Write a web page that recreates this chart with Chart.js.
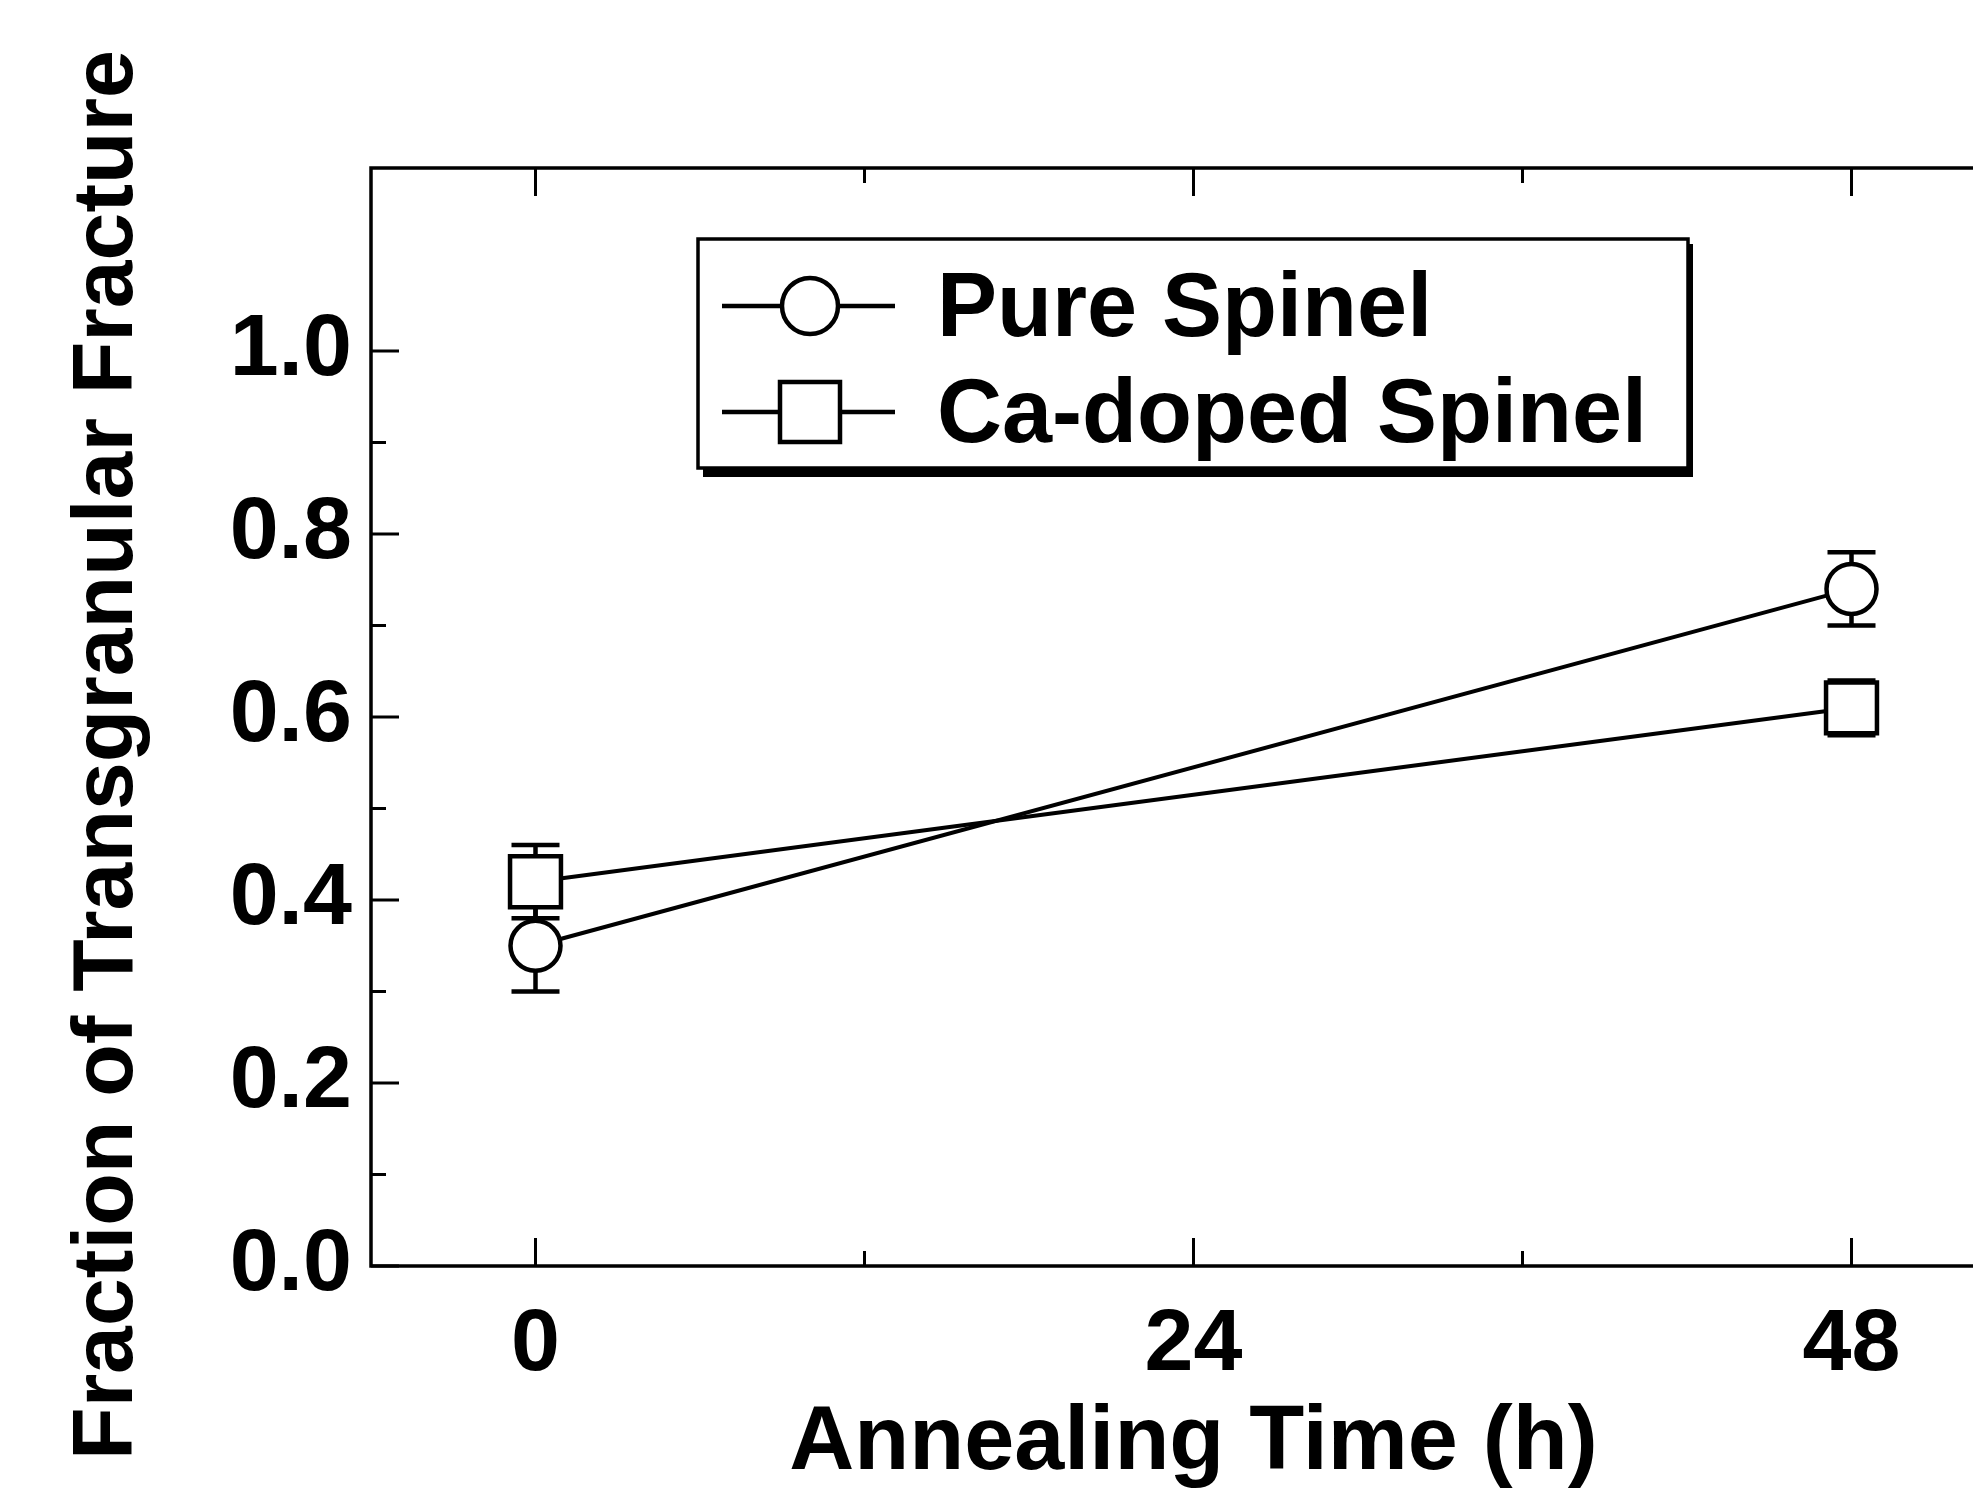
<!DOCTYPE html>
<html>
<head>
<meta charset="utf-8">
<script src="https://cdn.jsdelivr.net/npm/chart.js@4.4.1/dist/chart.umd.min.js"></script>
<style>
  html, body { margin: 0; padding: 0; background: #fff; overflow: hidden; }
</style>
</head>
<body>
<canvas id="graphique" width="2060" height="1489"></canvas>
<script>
const temps = [0, 48];
const pureSpinel = [0.35, 0.74];
const pureSpinelErr = [0.05, 0.04];
const caDoped = [0.42, 0.61];
const caDopedErr = [0.04, 0.03];
const xTicks = [0, 24, 48];
const xMinor = [12, 36];
const yTicks = [0, 0.2, 0.4, 0.6, 0.8, 1.0];
const yMinor = [0.1, 0.3, 0.5, 0.7, 0.9];
const nomsSeries = ["Pure Spinel", "Ca-doped Spinel"];

const police = "'Liberation Sans', Arial, sans-serif";

function points(xs, ys) {
    return xs.map((x, i) => ({ x: x, y: ys[i] }));
}

// barres d'erreur, dessinees sous les marqueurs
const barresErreur = {
    id: "barresErreur",
    beforeDatasetsDraw(chart) {
        const ctx = chart.ctx;
        const sx = chart.scales.x, sy = chart.scales.y;
        const erreurs = [pureSpinelErr, caDopedErr];
        ctx.save();
        ctx.strokeStyle = "#000";
        ctx.lineWidth = 4.5;
        chart.data.datasets.forEach((ds, d) => {
            ds.data.forEach((p, i) => {
                const px = sx.getPixelForValue(p.x);
                const haut = sy.getPixelForValue(p.y + erreurs[d][i]);
                const bas = sy.getPixelForValue(p.y - erreurs[d][i]);
                ctx.beginPath();
                ctx.moveTo(px, haut); ctx.lineTo(px, bas);
                ctx.moveTo(px - 24, haut); ctx.lineTo(px + 24, haut);
                ctx.moveTo(px - 24, bas); ctx.lineTo(px + 24, bas);
                ctx.stroke();
            });
        });
        ctx.restore();
    }
};

// cadre, graduations vers l'interieur, titre Y et legende
const cadre = {
    id: "cadre",
    afterDraw(chart) {
        const ctx = chart.ctx;
        const a = chart.chartArea;
        const sx = chart.scales.x, sy = chart.scales.y;
        ctx.save();
        ctx.strokeStyle = "#000";
        ctx.lineWidth = 3.5;
        ctx.strokeRect(a.left, a.top, a.right - a.left, a.bottom - a.top);

        ctx.beginPath();
        const grad = (vals, len) => {
            vals.forEach(v => {
                const px = sx.getPixelForValue(v);
                ctx.moveTo(px, a.bottom); ctx.lineTo(px, a.bottom - len);
                ctx.moveTo(px, a.top); ctx.lineTo(px, a.top + len);
            });
        };
        const gradY = (vals, len) => {
            vals.forEach(v => {
                const py = sy.getPixelForValue(v);
                ctx.moveTo(a.left, py); ctx.lineTo(a.left + len, py);
                ctx.moveTo(a.right, py); ctx.lineTo(a.right - len, py);
            });
        };
        ctx.lineWidth = 3;
        grad(xTicks, 28);
        grad(xMinor, 15);
        gradY(yTicks, 28);
        gradY(yMinor, 15);
        ctx.stroke();

        // titre de l'axe Y
        ctx.fillStyle = "#000";
        ctx.font = "bold 86px " + police;
        ctx.textAlign = "center";
        ctx.textBaseline = "alphabetic";
        ctx.save();
        ctx.translate(132, 755);
        ctx.rotate(-Math.PI / 2);
        ctx.fillText("Fraction of Transgranular Fracture", 0, 0);
        ctx.restore();

        // legende
        const lx = 698, ly = 239, lw = 990, lh = 229;
        ctx.fillStyle = "#000";
        ctx.fillRect(lx + 5, ly + 5, lw, lh + 4);
        ctx.fillStyle = "#fff";
        ctx.fillRect(lx, ly, lw, lh);
        ctx.lineWidth = 3.5;
        ctx.strokeRect(lx, ly, lw, lh);

        const rangs = [306, 412];
        rangs.forEach((ry, i) => {
            ctx.lineWidth = 4.5;
            ctx.strokeStyle = "#000";
            ctx.beginPath();
            ctx.moveTo(722, ry); ctx.lineTo(895, ry);
            ctx.stroke();
            ctx.fillStyle = "#fff";
            ctx.beginPath();
            if (i === 0) {
                ctx.arc(810, ry, 28, 0, Math.PI * 2);
            } else {
                ctx.rect(810 - 30, ry - 30, 60, 60);
            }
            ctx.fill();
            ctx.stroke();
            ctx.fillStyle = "#000";
            ctx.font = "bold 90px " + police;
            ctx.textAlign = "left";
            ctx.textBaseline = "alphabetic";
            ctx.fillText(nomsSeries[i], 937, ry + 30);
        });
        ctx.restore();
    }
};

const ctx = document.getElementById("graphique");
new Chart(ctx, {
    type: "scatter",
    data: {
        datasets: [{
            label: nomsSeries[0],
            data: points(temps, pureSpinel),
            showLine: true,
            borderColor: "#000",
            borderWidth: 4,
            pointStyle: "circle",
            pointRadius: 25,
            pointBorderWidth: 4.5,
            pointBackgroundColor: "#fff",
            pointBorderColor: "#000"
        }, {
            label: nomsSeries[1],
            data: points(temps, caDoped),
            showLine: true,
            borderColor: "#000",
            borderWidth: 4,
            pointStyle: "rect",
            pointRadius: 36,
            pointBorderWidth: 4.5,
            pointBackgroundColor: "#fff",
            pointBorderColor: "#000"
        }]
    },
    options: {
        responsive: false,
        animation: false,
        layout: { padding: { top: 168, right: 44, left: 0, bottom: 0 } },
        plugins: {
            legend: { display: false },
            tooltip: { enabled: false }
        },
        scales: {
            x: {
                type: "linear",
                min: -6,
                max: 54,
                afterBuildTicks: s => { s.ticks = xTicks.map(v => ({ value: v })); },
                afterFit: s => { s.height = 223; },
                grid: { display: false, drawTicks: false },
                border: { display: false },
                ticks: {
                    color: "#000",
                    padding: 27,
                    maxRotation: 0,
                    autoSkip: false,
                    font: { family: police, size: 88, weight: "bold" }
                },
                title: {
                    display: true,
                    text: "Annealing Time (h)",
                    color: "#000",
                    padding: { top: 0, bottom: 0 },
                    font: { family: police, size: 90, weight: "bold", lineHeight: 1 }
                }
            },
            y: {
                min: 0,
                max: 1.2,
                afterBuildTicks: s => { s.ticks = yTicks.map(v => ({ value: v })); },
                afterFit: s => { s.width = 371; },
                grid: { display: false, drawTicks: false },
                border: { display: false },
                ticks: {
                    color: "#000",
                    padding: 19,
                    callback: v => v.toFixed(1),
                    font: { family: police, size: 88, weight: "bold" }
                }
            }
        }
    },
    plugins: [barresErreur, cadre]
});
</script>
</body>
</html>
